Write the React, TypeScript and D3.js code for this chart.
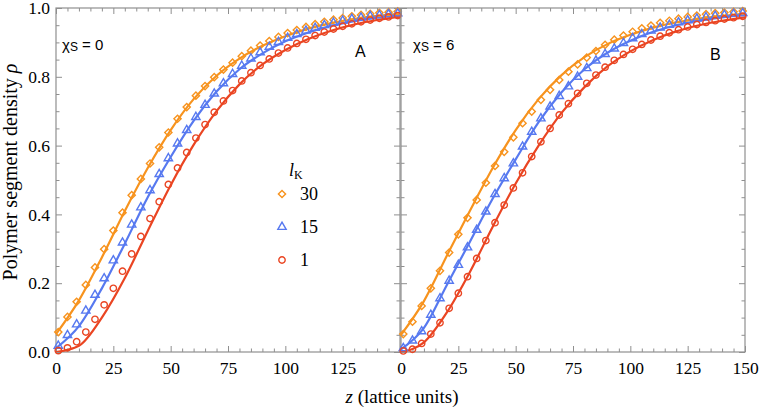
import React, { useEffect, useRef } from 'react';
import * as d3 from 'd3';

// marker positions (lattice units) and smooth-curve sample positions
const markerZ = [1, 5, 9, 13, 17, 21, 25, 29, 33, 37, 41, 45, 49, 53, 57, 61, 65, 69, 73, 77,
  81, 85, 89, 93, 97, 101, 105, 109, 113, 117, 121, 125, 129, 133, 137, 141, 145, 149];
const lineZ = [0, 10, 20, 30, 40, 50, 60, 70, 80, 90, 100, 110, 120, 130, 140, 150];

// panel A (chi_s = 0), simulation points
const aPts30 = [0.058, 0.102, 0.146, 0.195, 0.246, 0.299, 0.353, 0.405, 0.456, 0.503,
  0.548, 0.595, 0.638, 0.678, 0.712, 0.745, 0.773, 0.799, 0.821, 0.841,
  0.86, 0.876, 0.891, 0.904, 0.916, 0.927, 0.936, 0.945, 0.953, 0.96,
  0.966, 0.971, 0.976, 0.98, 0.983, 0.986, 0.988, 0.99];
const aPts15 = [0.018, 0.049, 0.08, 0.12, 0.166, 0.214, 0.266, 0.318, 0.37, 0.42,
  0.47, 0.517, 0.563, 0.606, 0.645, 0.683, 0.718, 0.751, 0.781, 0.808,
  0.832, 0.853, 0.871, 0.887, 0.901, 0.913, 0.924, 0.934, 0.942, 0.95,
  0.957, 0.963, 0.968, 0.972, 0.976, 0.979, 0.982, 0.984];
const aPts1 = [0.004, 0.012, 0.03, 0.058, 0.095, 0.137, 0.185, 0.235, 0.285, 0.336,
  0.388, 0.437, 0.487, 0.535, 0.58, 0.622, 0.661, 0.697, 0.73, 0.76,
  0.788, 0.812, 0.833, 0.852, 0.869, 0.884, 0.897, 0.909, 0.92, 0.93,
  0.939, 0.947, 0.954, 0.96, 0.965, 0.97, 0.974, 0.978];

// panel A theory curves
const aLine30 = [0.052, 0.15, 0.275, 0.41, 0.535, 0.645, 0.735, 0.803, 0.853, 0.89, 0.918, 0.94, 0.956, 0.968, 0.977, 0.984];
const aLine15 = [0.011, 0.075, 0.185, 0.315, 0.45, 0.567, 0.672, 0.757, 0.822, 0.868, 0.903, 0.929, 0.948, 0.962, 0.972, 0.979];
const aLine1 = [0.0, 0.018, 0.1, 0.215, 0.352, 0.485, 0.602, 0.7, 0.778, 0.836, 0.878, 0.91, 0.934, 0.952, 0.965, 0.975];

// panel B (chi_s = 6), simulation points
const bPts30 = [0.052, 0.088, 0.134, 0.185, 0.236, 0.289, 0.342, 0.39, 0.442, 0.492,
  0.541, 0.582, 0.624, 0.665, 0.699, 0.733, 0.762, 0.791, 0.815, 0.836,
  0.856, 0.875, 0.893, 0.908, 0.92, 0.931, 0.941, 0.949, 0.957, 0.963,
  0.969, 0.974, 0.978, 0.982, 0.985, 0.987, 0.989, 0.991];
const bPts15 = [0.011, 0.033, 0.06, 0.108, 0.156, 0.207, 0.253, 0.304, 0.355, 0.408,
  0.459, 0.505, 0.548, 0.597, 0.64, 0.679, 0.713, 0.744, 0.772, 0.8,
  0.825, 0.847, 0.866, 0.882, 0.898, 0.912, 0.924, 0.934, 0.943, 0.951,
  0.958, 0.964, 0.969, 0.973, 0.977, 0.98, 0.983, 0.985];
const bPts1 = [0.003, 0.008, 0.025, 0.052, 0.085, 0.127, 0.171, 0.219, 0.272, 0.324,
  0.376, 0.427, 0.477, 0.521, 0.568, 0.611, 0.65, 0.689, 0.722, 0.752,
  0.781, 0.805, 0.828, 0.848, 0.865, 0.88, 0.894, 0.907, 0.918, 0.928,
  0.937, 0.945, 0.952, 0.958, 0.963, 0.968, 0.972, 0.976];

// panel B theory curves
const bLine30 = [0.05, 0.148, 0.28, 0.41, 0.535, 0.645, 0.735, 0.805, 0.857, 0.895, 0.922, 0.943, 0.958, 0.969, 0.977, 0.983];
const bLine15 = [0.008, 0.07, 0.195, 0.32, 0.446, 0.56, 0.668, 0.755, 0.822, 0.87, 0.905, 0.931, 0.95, 0.963, 0.973, 0.98];
const bLine1 = [0.0, 0.028, 0.115, 0.232, 0.364, 0.49, 0.6, 0.695, 0.77, 0.83, 0.874, 0.907, 0.932, 0.95, 0.963, 0.973];

const legendLabels = ['30', '15', '1'];
const xMajor = [0, 25, 50, 75, 100, 125, 150];
const yMajor = [0, 0.2, 0.4, 0.6, 0.8, 1.0];

const ORANGE = '#f7931e';
const BLUE = '#5779f0';
const RED = '#ea4522';
const FRAME = '#8f8f8f';
const SERIF = '"Liberation Serif", "Times New Roman", serif';
const SANS = '"Liberation Sans", Arial, sans-serif';

type Shape = 'diamond' | 'triangle' | 'circle';

function markerPath(shape: Shape) {
  if (shape === 'diamond') return d3.symbol().type(d3.symbolSquare).size(26)()!;
  if (shape === 'triangle') return d3.symbol().type(d3.symbolTriangle).size(30)()!;
  return d3.symbol().type(d3.symbolCircle).size(32)()!;
}

export default function App() {
  const svgRef = useRef<SVGSVGElement>(null);

  useEffect(() => {
    if (!svgRef.current) return;
    const svg = d3.select(svgRef.current);
    svg.selectAll('*').remove();

    const y = d3.scaleLinear().domain([0, 1]).range([352, 8]);

    const panels = [
      {
        key: 'A', x: d3.scaleLinear().domain([0, 150]).range([56, 400]), chi: '0', first: true,
        letter: { x: 355, y: 57 }, chiPos: { x: 62, y: 50 },
        series: [
          { pts: aPts30, line: aLine30, color: ORANGE, shape: 'diamond' as Shape },
          { pts: aPts15, line: aLine15, color: BLUE, shape: 'triangle' as Shape },
          { pts: aPts1, line: aLine1, color: RED, shape: 'circle' as Shape },
        ],
      },
      {
        key: 'B', x: d3.scaleLinear().domain([0, 150]).range([401, 745]), chi: '6', first: false,
        letter: { x: 710, y: 60 }, chiPos: { x: 413, y: 50 },
        series: [
          { pts: bPts30, line: bLine30, color: ORANGE, shape: 'diamond' as Shape },
          { pts: bPts15, line: bLine15, color: BLUE, shape: 'triangle' as Shape },
          { pts: bPts1, line: bLine1, color: RED, shape: 'circle' as Shape },
        ],
      },
    ];

    const xMinor = d3.range(0, 151, 5).filter(v => v % 25 !== 0);
    const yMinor = d3.range(0, 21).filter(i => i % 4 !== 0).map(i => i / 20);

    const styleAxis = (g: any, labels: boolean) => {
      g.select('.domain').remove();
      g.attr('font-family', null).attr('font-size', null);
      g.selectAll('.tick line').attr('stroke', FRAME).attr('stroke-width', 1);
      if (labels) {
        g.selectAll('text')
          .attr('fill', '#000')
          .attr('font-family', SERIF)
          .attr('font-size', 17.5);
      } else {
        g.selectAll('text').remove();
      }
    };

    panels.forEach(p => {
      const [x0, x1] = p.x.range();
      const g = svg.append('g');

      // clip for the curves
      const clipId = `clip-${p.key}`;
      svg.append('clipPath').attr('id', clipId)
        .append('rect')
        .attr('x', x0).attr('y', y(1))
        .attr('width', x1 - x0).attr('height', y(0) - y(1));

      // ticks on all four sides, pointing inwards
      const bottomMajor = d3.axisBottom(p.x).tickValues(xMajor).tickSize(-6).tickPadding(10)
        .tickFormat(d => (p.first && +d === 150 ? '' : String(d)));
      g.append('g').attr('transform', `translate(0,${y(0)})`).call(bottomMajor).call(s => styleAxis(s, true));
      g.append('g').attr('transform', `translate(0,${y(0)})`)
        .call(d3.axisBottom(p.x).tickValues(xMinor).tickSize(-3.5)).call(s => styleAxis(s, false));
      g.append('g').attr('transform', `translate(0,${y(1)})`)
        .call(d3.axisTop(p.x).tickValues(xMajor).tickSize(-6)).call(s => styleAxis(s, false));
      g.append('g').attr('transform', `translate(0,${y(1)})`)
        .call(d3.axisTop(p.x).tickValues(xMinor).tickSize(-3.5)).call(s => styleAxis(s, false));

      const leftMajor = d3.axisLeft(y).tickValues(yMajor).tickSize(-6).tickPadding(6).tickFormat(d3.format('.1f'));
      g.append('g').attr('transform', `translate(${x0},0)`).call(leftMajor).call(s => styleAxis(s, p.first));
      g.append('g').attr('transform', `translate(${x0},0)`)
        .call(d3.axisLeft(y).tickValues(yMinor).tickSize(-3.5)).call(s => styleAxis(s, false));
      g.append('g').attr('transform', `translate(${x1},0)`)
        .call(d3.axisRight(y).tickValues(yMajor).tickSize(-6)).call(s => styleAxis(s, false));
      g.append('g').attr('transform', `translate(${x1},0)`)
        .call(d3.axisRight(y).tickValues(yMinor).tickSize(-3.5)).call(s => styleAxis(s, false));

      // frame
      g.append('rect')
        .attr('x', x0).attr('y', y(1))
        .attr('width', x1 - x0).attr('height', y(0) - y(1))
        .attr('fill', 'none').attr('stroke', FRAME).attr('stroke-width', 1.2);

      // theory curves
      const line = d3.line<number>()
        .x((_, i) => p.x(lineZ[i]))
        .y(d => y(d))
        .curve(d3.curveMonotoneX);

      p.series.forEach(s => {
        g.append('path')
          .attr('d', line(s.line))
          .attr('fill', 'none')
          .attr('stroke', s.color)
          .attr('stroke-width', 2.2)
          .attr('clip-path', `url(#${clipId})`);
      });

      // simulation markers
      p.series.forEach(s => {
        g.append('g').selectAll('path')
          .data(s.pts)
          .enter()
          .append('path')
          .attr('d', markerPath(s.shape))
          .attr('transform', (d, i) =>
            `translate(${p.x(markerZ[i])},${y(d)})` + (s.shape === 'diamond' ? ' rotate(45)' : ''))
          .attr('fill', 'none')
          .attr('stroke', s.color)
          .attr('stroke-width', 1.4);
      });

      // chi_s label
      const chi = g.append('text')
        .attr('x', p.chiPos.x).attr('y', p.chiPos.y)
        .attr('font-family', SANS).attr('font-size', 15);
      chi.append('tspan').text('χ');
      chi.append('tspan').attr('font-size', 12).attr('dy', 1).text('S');
      chi.append('tspan').attr('dy', -1).text(` = ${p.chi}`);

      g.append('text')
        .attr('x', p.letter.x).attr('y', p.letter.y)
        .attr('font-family', SANS).attr('font-size', 16)
        .text(p.key);
    });

    // legend
    const legend = svg.append('g');
    const lt = legend.append('text').attr('x', 289).attr('y', 176)
      .attr('font-family', SERIF).attr('font-size', 18);
    lt.append('tspan').attr('font-style', 'italic').text('l');
    lt.append('tspan').attr('font-size', 12).attr('dy', 3).text('K');

    const legendShapes: Shape[] = ['diamond', 'triangle', 'circle'];
    const legendColors = [ORANGE, BLUE, RED];
    legendLabels.forEach((lab, i) => {
      const cy = 194 + i * 33;
      legend.append('path')
        .attr('d', markerPath(legendShapes[i]))
        .attr('transform', `translate(282,${cy})` + (legendShapes[i] === 'diamond' ? ' rotate(45)' : ''))
        .attr('fill', 'none')
        .attr('stroke', legendColors[i])
        .attr('stroke-width', 1.4);
      legend.append('text')
        .attr('x', 300).attr('y', cy + 6)
        .attr('font-family', SERIF).attr('font-size', 18)
        .text(lab);
    });

    // axis titles
    const xt = svg.append('text')
      .attr('x', 402).attr('y', 403)
      .attr('text-anchor', 'middle')
      .attr('font-family', SERIF).attr('font-size', 19);
    xt.append('tspan').attr('font-style', 'italic').text('z');
    xt.append('tspan').text(' (lattice units)');

    const yt = svg.append('text')
      .attr('transform', 'translate(17,172) rotate(-90)')
      .attr('text-anchor', 'middle')
      .attr('font-family', SERIF).attr('font-size', 20);
    yt.append('tspan').text('Polymer segment density ');
    yt.append('tspan').attr('font-style', 'italic').text('ρ');
  }, []);

  return (
    <svg
      ref={svgRef}
      width={761}
      height={410}
      style={{ position: 'absolute', left: 0, top: 0, background: '#fff' }}
    />
  );
}
